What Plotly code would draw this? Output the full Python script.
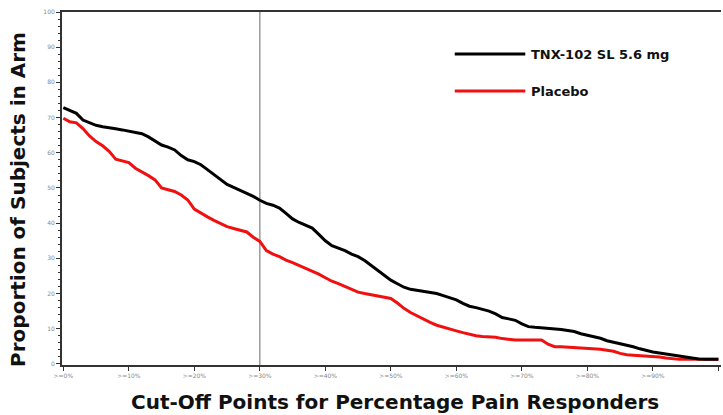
import plotly.graph_objects as go

cutoff = list(range(0, 101))
tnx = [72.8, 72.0, 71.2, 69.3, 68.5, 67.8, 67.4, 67.0, 66.8, 66.5,
       66.2, 65.9, 65.4, 64.5, 63.3, 62.2, 61.6, 60.8, 59.2, 58.0,
       57.5, 56.6, 55.2, 53.8, 52.2, 51.0, 50.2, 49.4, 48.5, 47.6,
       46.5, 45.6, 45.1, 44.3, 42.8, 41.2, 40.2, 39.5, 38.6, 36.8,
       35.0, 33.6, 33.0, 32.2, 31.2, 30.5, 29.4, 28.0, 26.8, 25.3,
       23.8, 22.8, 21.8, 21.2, 20.9, 20.6, 20.3, 20.0, 19.4, 18.8,
       18.2, 17.2, 16.4, 16.0, 15.6, 15.0, 14.2, 13.2, 12.8, 12.4,
       11.4, 10.6, 10.4, 10.3, 10.2, 10.1, 9.8, 9.5, 9.2, 8.6,
       8.2, 7.8, 7.3, 6.6, 6.2, 5.8, 5.4, 4.9, 4.3, 3.8,
       3.4, 3.1, 2.8, 2.6, 2.3, 1.8, 1.5, 1.4, 1.3, 1.3, 1.3]
placebo = [69.8, 68.8, 68.5, 66.9, 64.8, 63.2, 62.0, 60.4, 58.2, 57.8,
           57.2, 55.6, 54.6, 53.5, 52.3, 50.0, 49.5, 49.0, 48.0, 46.6,
           44.0, 42.8, 41.8, 40.8, 39.9, 39.0, 38.5, 38.0, 37.5, 36.0,
           34.8, 32.2, 31.2, 30.5, 29.5, 28.8, 28.0, 27.2, 26.4, 25.5,
           24.5, 23.5, 22.8, 22.0, 21.0, 20.4, 20.0, 19.7, 19.4, 19.0,
           18.6, 17.3, 15.8, 14.6, 13.6, 12.6, 11.8, 11.0, 10.4, 9.9,
           9.4, 8.9, 8.4, 8.0, 7.8, 7.7, 7.6, 7.2, 6.9, 6.8,
           6.8, 6.8, 6.8, 6.8, 5.6, 4.9, 4.9, 4.8, 4.7, 4.6,
           4.5, 4.4, 4.2, 3.9, 3.6, 3.0, 2.6, 2.5, 2.4, 2.2,
           2.1, 2.0, 1.7, 1.4, 1.3, 1.3, 1.3, 1.3, 1.3, 1.3, 1.3]

x_tickvals = [0, 10, 20, 30, 40, 50, 60, 70, 80, 90, 100]
x_ticktext = [">=0%", ">=10%", ">=20%", ">=30%", ">=40%", ">=50%",
              ">=60%", ">=70%", ">=80%", ">=90%", ">=100%"]
y_tickvals = [0, 10, 20, 30, 40, 50, 60, 70, 80, 90, 100]
series_names = ["TNX-102 SL 5.6 mg", "Placebo"]
series_colors = ["#000000", "#f01010"]
ref_cutoff = 30

fig = go.Figure()
fig.add_trace(go.Scatter(x=cutoff, y=placebo, mode="lines", line_shape="linear",
                         line=dict(color=series_colors[1], width=3),
                         name=series_names[1], showlegend=False))
fig.add_trace(go.Scatter(x=cutoff, y=tnx, mode="lines", line_shape="linear",
                         line=dict(color=series_colors[0], width=3),
                         name=series_names[0], showlegend=False))

fig.add_shape(type="line", xref="x", yref="paper", x0=ref_cutoff, x1=ref_cutoff,
              y0=0, y1=1, line=dict(color="#9a9a9a", width=1.5), layer="below")

# legend drawn manually
for i, (nm, col) in enumerate(zip(series_names, series_colors)):
    yy = 0.881 - i * 0.105
    fig.add_shape(type="line", xref="paper", yref="paper", x0=0.596, x1=0.703,
                  y0=yy, y1=yy, line=dict(color=col, width=3))
    fig.add_annotation(xref="paper", yref="paper", x=0.708, y=yy, text="<b>" + nm + "</b>",
                       showarrow=False, xanchor="left", yanchor="middle",
                       font=dict(family="DejaVu Sans", size=13, color="#111"))

fig.add_annotation(xref="paper", yref="paper", x=0.505, y=-0.105,
                   text="<b>Cut-Off Points for Percentage Pain Responders</b>",
                   showarrow=False, xanchor="center", yanchor="middle",
                   font=dict(family="DejaVu Sans", size=20, color="#111"))
fig.add_annotation(xref="paper", yref="paper", x=-0.067, y=0.47,
                   text="<b>Proportion of Subjects in Arm</b>", textangle=-90,
                   showarrow=False, xanchor="center", yanchor="middle",
                   font=dict(family="DejaVu Sans", size=20, color="#111"))

fig.update_layout(
    width=723, height=415,
    margin=dict(l=62, r=2, t=12, b=50, autoexpand=False),
    paper_bgcolor="white", plot_bgcolor="white",
    font=dict(family="DejaVu Sans"),
    xaxis=dict(range=[-0.2, 100.4], tickvals=x_tickvals, ticktext=x_ticktext,
               automargin=False,
               showgrid=False, zeroline=False, showline=True, linecolor="#333",
               linewidth=2, mirror=True, ticks="outside", ticklen=4,
               tickcolor="#333", tickfont=dict(size=6, color="#888")),
    yaxis=dict(range=[-0.3, 100], tickvals=y_tickvals, showgrid=False,
               automargin=False,
               zeroline=False, showline=True, linecolor="#333", linewidth=2,
               ticks="outside", ticklen=4, tickcolor="#333",
               tickfont=dict(size=6, color="#888"),
               minor=dict(dtick=2, ticks="outside", ticklen=2, tickcolor="#333")),
)

fig.write_html("out.html", config={"displayModeBar": False},
               post_script="document.body.style.margin='0';document.body.style.padding='0';")
